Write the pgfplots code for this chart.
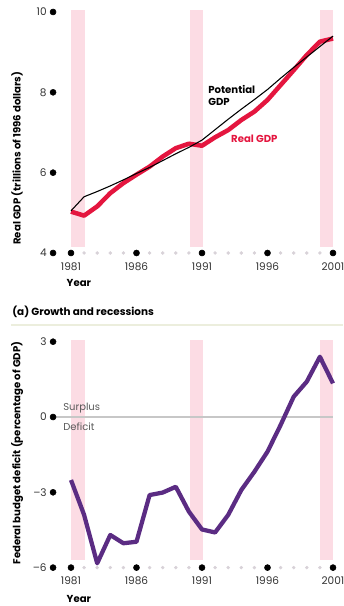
\documentclass[border=0pt]{standalone}
\usepackage{fontspec}
\setmainfont{Poppins}
\usepackage{pgfplots}
\pgfplotsset{compat=1.18}
\definecolor{band}{HTML}{FCDCE4}
\definecolor{realred}{HTML}{E4163F}
\definecolor{purp}{HTML}{5B2C83}
\definecolor{dotgray}{HTML}{D8D2D8}
\definecolor{rulec}{HTML}{ECEEDD}
\definecolor{ticktext}{HTML}{333333}
\pgfplotsset{
  common/.style={
    scale only axis, width=216.15pt,
    xmin=1979.5, xmax=2001.5,
    axis line style={draw=none},
    tick style={draw=none},
    major tick length=0pt,
    clip=false,
    xtick={1981,1986,1991,1996,2001},
    /pgf/number format/assume math mode=true,
    /pgf/number format/1000 sep={},
    ticklabel style={font=\fontsize{7.9}{9}\selectfont, text=ticktext},
    xticklabel style={yshift=2.2pt},
    xlabel={Year},
  },
  gray dots/.style={only marks, mark=*, mark size=1.1pt, mark options={draw=dotgray, fill=dotgray}},
  black dots/.style={only marks, mark=*, mark size=2.25pt, mark options={draw=black, fill=black}},
}
\begin{document}
\begin{tikzpicture}
% ---------------- top panel ----------------
\begin{axis}[common,
  at={(38.51pt,258.73pt)}, anchor=south west,
  height=192.81pt, ymin=3.8, ymax=10.2,
  ytick={4,6,8,10},
  ylabel={Real GDP (trillions of 1996 dollars)},
  every axis y label/.style={at={(axis description cs:-0.119,0.40)}, rotate=90, anchor=center, font=\bfseries\fontsize{7.6}{9}\selectfont},
  every axis x label/.style={at={(axis description cs:0.037,-0.0855)}, anchor=west, font=\bfseries\fontsize{7.6}{9}\selectfont},
]
\addplot[fill=band, draw=none] coordinates {(1981,4.15) (1982.07,4.15) (1982.07,10.04) (1981,10.04)} -- cycle;
\addplot[fill=band, draw=none] coordinates {(1990.08,4.15) (1991.07,4.15) (1991.07,10.04) (1990.08,10.04)} -- cycle;
\addplot[fill=band, draw=none] coordinates {(2000,4.15) (2001,4.15) (2001,10.04) (2000,10.04)} -- cycle;
\addplot[gray dots] coordinates {(1982,4) (1983,4) (1984,4) (1985,4) (1987,4) (1988,4) (1989,4) (1990,4) (1992,4) (1993,4) (1994,4) (1995,4) (1997,4) (1998,4) (1999,4) (2000,4)};
\addplot[black dots] coordinates {(1979.63,4) (1979.63,6) (1979.63,8) (1979.63,10) (1981,4) (1986,4) (1991,4) (1996,4) (2001,4)};
% Real GDP
\addplot[realred, line width=3.4pt, line join=round] coordinates {
(1981,5.03) (1982,4.93) (1983,5.16) (1984,5.49) (1985,5.74) (1986,5.95) (1987,6.15)
(1988,6.40) (1989,6.61) (1990,6.72) (1991,6.67) (1992,6.88) (1993,7.06) (1994,7.31)
(1995,7.52) (1996,7.81) (1997,8.18) (1998,8.55) (1999,8.93) (2000,9.26) (2001,9.34)};
% Potential GDP
\addplot[black, line width=0.8pt] coordinates {
(1981,5.05) (1982,5.40) (1983,5.53) (1984,5.67) (1985,5.82) (1986,5.98) (1987,6.13)
(1988,6.30) (1989,6.47) (1990,6.63) (1991,6.81) (1992,7.07) (1993,7.33) (1994,7.58)
(1995,7.82) (1996,8.07) (1997,8.35) (1998,8.62) (1999,8.88) (2000,9.14) (2001,9.40)};
\node[anchor=west, align=left, font=\bfseries\fontsize{7.6}{9}\selectfont, inner sep=0pt] at (axis cs:1991.46,7.91) {Potential\\GDP};
\node[anchor=west, font=\bfseries\fontsize{7.6}{9}\selectfont, text=realred, inner sep=0pt] at (axis cs:1993.21,6.84) {Real GDP};
\end{axis}
% ---------------- title and rule ----------------
\node[anchor=west, font=\bfseries\fontsize{7.8}{9}\selectfont, inner sep=0pt] at (9pt,220.5pt) {(a) Growth and recessions};
\draw[rulec, line width=1.1pt] (8.25pt,210.75pt) -- (257.25pt,210.75pt);
% ---------------- bottom panel ----------------
\begin{axis}[common,
  at={(38.51pt,23.15pt)}, anchor=south west,
  height=180.72pt, ymin=-6.3, ymax=3.3,
  ytick={-6,-3,0,3},
  yticklabels={\textendash6,\textendash3,0,3},
  ylabel={Federal budget deficit (percentage of GDP)},
  every axis y label/.style={at={(axis description cs:-0.119,0.507)}, rotate=90, anchor=center, font=\bfseries\fontsize{7.6}{9}\selectfont},
  every axis x label/.style={at={(axis description cs:0.037,-0.099)}, anchor=west, font=\bfseries\fontsize{7.6}{9}\selectfont},
]
\addplot[fill=band, draw=none] coordinates {(1981,-5.69) (1982.07,-5.69) (1982.07,3.07) (1981,3.07)} -- cycle;
\addplot[fill=band, draw=none] coordinates {(1990.08,-5.69) (1991.07,-5.69) (1991.07,3.07) (1990.08,3.07)} -- cycle;
\addplot[fill=band, draw=none] coordinates {(2000,-5.69) (2001,-5.69) (2001,3.07) (2000,3.07)} -- cycle;
\addplot[black!22, line width=0.8pt] coordinates {(1979.63,0) (2001,0)};
\addplot[gray dots] coordinates {(1982,-6) (1983,-6) (1984,-6) (1985,-6) (1987,-6) (1988,-6) (1989,-6) (1990,-6) (1992,-6) (1993,-6) (1994,-6) (1995,-6) (1997,-6) (1998,-6) (1999,-6) (2000,-6)};
\addplot[black dots] coordinates {(1979.63,-6) (1979.63,-3) (1979.63,0) (1979.63,3) (1981,-6) (1986,-6) (1991,-6) (1996,-6) (2001,-6)};
\addplot[purp, line width=3.2pt, line join=round] coordinates {
(1981,-2.51) (1982,-3.90) (1983,-5.83) (1984,-4.70) (1985,-5.03) (1986,-4.97) (1987,-3.11)
(1988,-3.01) (1989,-2.78) (1990,-3.77) (1991,-4.48) (1992,-4.60) (1993,-3.90) (1994,-2.91)
(1995,-2.18) (1996,-1.38) (1997,-0.32) (1998,0.81) (1999,1.41) (2000,2.40) (2001,1.34)};
\node[anchor=west, font=\fontsize{7.5}{9}\selectfont, text=black!65, inner sep=0pt] at (axis cs:1980.39,0.36) {Surplus};
\node[anchor=west, font=\fontsize{7.5}{9}\selectfont, text=black!65, inner sep=0pt] at (axis cs:1980.39,-0.40) {Deficit};
\end{axis}
\pgfresetboundingbox
\path[use as bounding box] (0pt,0pt) rectangle (257.25pt,454.5pt);
\end{tikzpicture}
\end{document}
